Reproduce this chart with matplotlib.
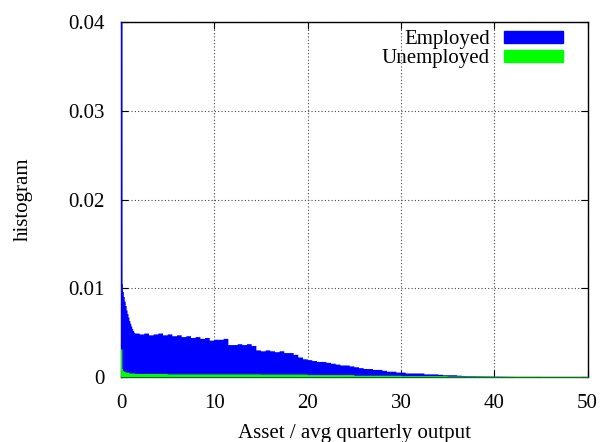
import numpy as np
import matplotlib
matplotlib.use("Agg")
import matplotlib.pyplot as plt
from matplotlib.patches import Patch

# bin edges: fine near zero, then 0.5 wide
fine_edges = [0.0, 0.15, 0.2, 0.3, 0.4, 0.5, 0.6, 0.7, 0.8, 0.9, 1.0, 1.1, 1.2, 1.3, 1.4, 1.5]
emp_edges = fine_edges + list(np.arange(2.0, 42.01, 0.5))
unemp_edges = fine_edges + [5, 10, 15, 20, 25, 30, 35, 40, 45, 50]

employed = [
    0.040, 0.0105, 0.0096, 0.0090, 0.0085, 0.0080, 0.0075, 0.0071, 0.0067, 0.0063,
    0.0060, 0.0057, 0.0054, 0.0052, 0.0050,
    # from 1.5 in steps of 0.5
    0.0049, 0.0048, 0.0049, 0.0047, 0.0048, 0.0049, 0.0047, 0.0048,
    0.0046, 0.0047, 0.0045, 0.0046, 0.0044, 0.0045, 0.0043, 0.0044,
    0.0041, 0.0042, 0.0042, 0.0043, 0.0036, 0.0036, 0.0037, 0.0036,
    0.0037, 0.0035, 0.0030, 0.0029, 0.0030, 0.0029, 0.0028, 0.0029,
    0.0027, 0.0027, 0.0025, 0.0022, 0.0020, 0.0019, 0.0018, 0.0017,
    0.0017, 0.0016, 0.0015, 0.0014, 0.0013, 0.0013, 0.0012, 0.0011,
    0.0010, 0.0009, 0.0009, 0.0008, 0.0008, 0.0007, 0.0006, 0.0006,
    0.0005, 0.0005, 0.0004, 0.0004, 0.0004, 0.0004, 0.0003, 0.0003,
    0.0003, 0.00025, 0.0002, 0.0002, 0.0002, 0.00015, 0.00012, 0.0001,
    0.0001, 0.00008, 0.00007, 0.00006, 0.00005, 0.00004, 0.00003, 0.00002,
    0.00001,
]
unemployed = [
    0.0031, 0.0009, 0.0007, 0.0006, 0.0006, 0.0005, 0.0005, 0.0005, 0.0005, 0.0004,
    0.0004, 0.0004, 0.0004, 0.0004, 0.0004,
    0.00035, 0.0003, 0.0003, 0.00028, 0.00022, 0.00015, 0.0001, 0.00006, 0.00004, 0.00003,
]

xticks = [0, 10, 20, 30, 40, 50]
yticks = [0, 0.01, 0.02, 0.03, 0.04]
ytick_labels = ["0", "0.01", "0.02", "0.03", "0.04"]

plt.rcParams["font.family"] = ["Liberation Serif", "DejaVu Serif"]
plt.rcParams["font.size"] = 15

fig = plt.figure(figsize=(6.03, 4.42), dpi=100)
ax = fig.add_axes([0.2007, 0.147, 0.7738, 0.803])

ax.stairs(employed, emp_edges, fill=True, color="#0000ff", linewidth=1.0,
          zorder=5, clip_on=False, snap=False)
ax.stairs(unemployed, unemp_edges, fill=True, color="#00ff00", linewidth=1.0,
          zorder=6, clip_on=False, snap=False)

ax.set_xlim(0, 50)
ax.set_ylim(0, 0.04)
ax.set_xticks(xticks)
ax.set_yticks(yticks, ytick_labels)
ax.tick_params(direction="in", top=True, right=True, length=5, width=0.8, labelsize=15)
ax.tick_params(axis="x", pad=12)
ax.tick_params(axis="y", pad=12)
ax.grid(True, color="#444444", linestyle=(0, (1, 2)), linewidth=0.8)
ax.set_axisbelow(True)
for sp in ax.spines.values():
    sp.set_linewidth(1.0)
    sp.set_zorder(4)
ax.spines["bottom"].set_color("#1f5f2f")

ax.set_xlabel("Asset / avg quarterly output")
ax.set_ylabel("histogram")
ax.xaxis.set_label_coords(0.5, -0.133)
ax.yaxis.set_label_coords(-0.19, 0.5)

handles = [Patch(facecolor="#0000ff", edgecolor="#0000ff"),
           Patch(facecolor="#00ff00", edgecolor="#00ff00")]
leg = ax.legend(handles, ["Employed", "Unemployed"], loc="upper right",
                bbox_to_anchor=(0.9465, 0.977), frameon=False,
                markerfirst=False, handlelength=2.8, handleheight=0.5, handletextpad=0.7,
                labelspacing=0.0, borderaxespad=0.0, borderpad=0.0, fontsize=15)
for col in leg._legend_handle_box.get_children():
    col.align = "right"

fig.savefig("out.png", dpi=100)
